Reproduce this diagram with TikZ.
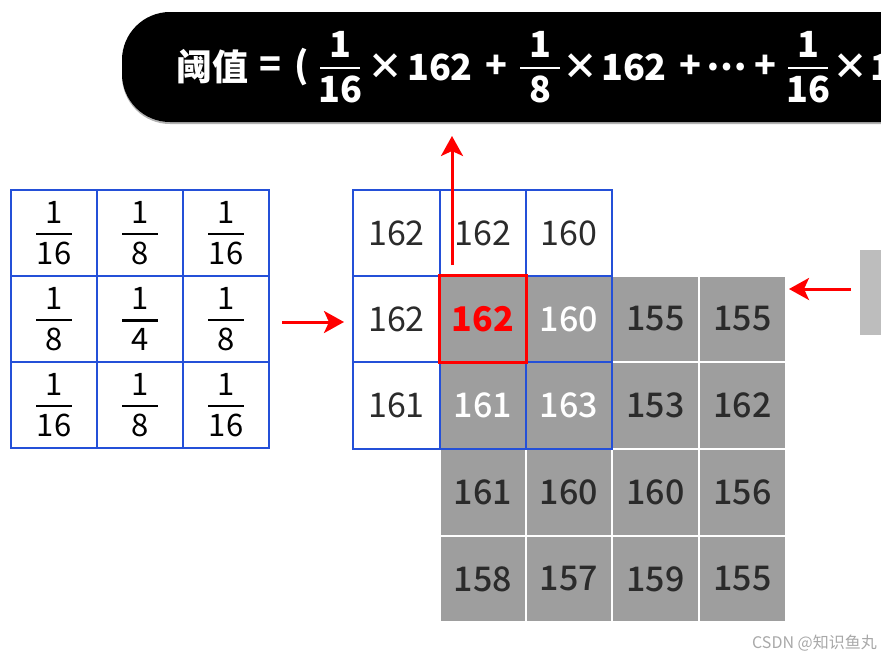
\documentclass[tikz,border=0pt]{standalone}
\usepackage{fontspec}
\usepackage{amsmath}
\setmainfont{Noto Sans CJK SC}
\newfontfamily\medfont{Noto Sans CJK SC Medium}
\usetikzlibrary{arrows.meta}
\definecolor{gridblue}{HTML}{2450D8}
\definecolor{cellgray}{HTML}{9E9E9E}
\definecolor{txtdark}{HTML}{2B2B2B}
\definecolor{sidegray}{HTML}{BDBDBD}
\definecolor{wmgray}{HTML}{A8A8A8}
\newcommand{\kf}[3][36pt]{$\genfrac{}{}{2.2pt}{0}{\makebox[#1]{#2}}{\makebox[#1]{#3}}$}
\begin{document}
\begin{tikzpicture}[x=1pt,y=-1pt,
  cellbox/.style={minimum width=86.5pt,minimum height=86.5pt,inner sep=0pt,anchor=center},
  kcell/.style={cellbox,draw=gridblue,line width=2pt,fill=white,font=\fontsize{31}{36}\selectfont,text=black},
  wcell/.style={cellbox,draw=gridblue,line width=2pt,fill=white,font=\fontsize{34}{40}\selectfont,text=txtdark},
  gcell/.style={cellbox,draw=white,line width=2pt,fill=cellgray,font=\fontsize{34}{40}\selectfont\medfont,text=txtdark},
  bcell/.style={cellbox,draw=gridblue,line width=2pt,fill=cellgray,font=\fontsize{34}{40}\selectfont\medfont,text=white},
  redarrow/.style={draw=red,line width=3pt,-{Stealth[length=20pt,width=22pt,inset=5pt]}},
  btext/.style={text=white,font=\fontsize{36}{40}\selectfont\bfseries,inner sep=0pt,anchor=center}
]
\useasboundingbox (0,0) rectangle (881,659);
% banner
\fill[gray!60,rounded corners=48pt] (122,14) rectangle (960,124);
\fill[black,rounded corners=48pt] (122,12) rectangle (960,122);
\node[btext] (b1) at (212,67) {阈值};
\node[btext] (b2) at (270,67) {=};
\node[btext] (b3) at (302,67) {(};
\node[btext] (b4) at (340,67) {\kf[40pt]{1}{16}};
\node[btext] (b5) at (385,67) {×};
\node[btext] (b6) at (440,67) {162};
\node[btext] (b7) at (496,67) {+};
\node[btext] (b8) at (540,67) {\kf[40pt]{1}{8}};
\node[btext] (b9) at (580,67) {×};
\node[btext] (b10) at (634,67) {162};
\node[btext] (b11) at (690,67) {+};
\node[btext] (b12) at (727,67) {⋯};
\node[btext] (b13) at (765,67) {+};
\node[btext] (b14) at (808,67) {\kf[40pt]{1}{16}};
\node[btext] (b15) at (850,67) {×};
\node[btext,anchor=west] (b16) at (870,67) {162};
% kernel
\node[kcell] (k11) at (54,233) {\kf{1}{16}};
\node[kcell] (k12) at (140,233) {\kf{1}{8}};
\node[kcell] (k13) at (226,233) {\kf{1}{16}};
\node[kcell] (k21) at (54,319) {\kf{1}{8}};
\node[kcell] (k22) at (140,319) {\kf{1}{4}};
\node[kcell] (k23) at (226,319) {\kf{1}{8}};
\node[kcell] (k31) at (54,405) {\kf{1}{16}};
\node[kcell] (k32) at (140,405) {\kf{1}{8}};
\node[kcell] (k33) at (226,405) {\kf{1}{16}};
% gray image cells
\node[gcell] (g13) at (655.5,319) {155};
\node[gcell] (g14) at (742.5,319) {155};
\node[gcell] (g23) at (655.5,405.5) {153};
\node[gcell] (g24) at (742.5,405.5) {162};
\node[gcell] (g31) at (483,492.5) {161};
\node[gcell] (g32) at (569,492.5) {160};
\node[gcell] (g33) at (655.5,492.5) {160};
\node[gcell] (g34) at (742.5,492.5) {156};
\node[gcell] (g41) at (483,579) {158};
\node[gcell] (g42) at (569,579) {157};
\node[gcell] (g43) at (655.5,579) {159};
\node[gcell] (g44) at (742.5,579) {155};
% blue window
\node[wcell] (w00) at (396.5,233) {162};
\node[wcell] (w01) at (483,233) {162};
\node[wcell] (w02) at (569,233) {160};
\node[wcell] (w10) at (396.5,319) {162};
\node[wcell] (w20) at (396.5,405.5) {161};
\node[bcell] (w12) at (569,319) {160};
\node[bcell] (w21) at (483,405.5) {161};
\node[bcell] (w22) at (569,405.5) {163};
\node[bcell,draw=red,line width=3pt,text=red,font=\fontsize{34}{40}\selectfont\bfseries] (w11) at (483,319) {162};
% side block
\fill[sidegray] (860,250) rectangle (890,335);
\coordinate (side) at (851,289);
% arrows
\coordinate (a1s) at (282,322);
\coordinate (a1e) at (344,322);
\draw[redarrow] (a1s) -- (a1e);
\coordinate (a2s) at (452,265);
\coordinate (a2e) at (452,136);
\draw[redarrow] (a2s) -- (a2e);
\coordinate (a3e) at (789,289);
\draw[redarrow] (side) -- (a3e);
% watermark
\node[anchor=east,text=wmgray,font=\fontsize{16}{18}\selectfont,inner sep=0pt] (wm) at (877,643) {CSDN @知识鱼丸};
\end{tikzpicture}
\end{document}
